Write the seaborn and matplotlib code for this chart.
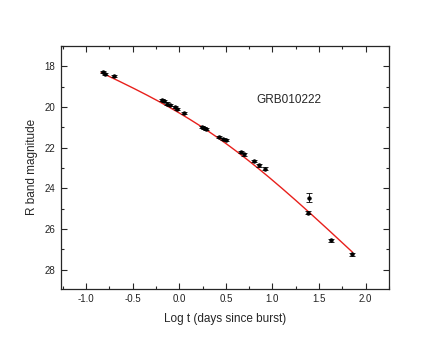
import numpy as np
import pandas as pd
import matplotlib
matplotlib.use("Agg")
import matplotlib.pyplot as plt
import seaborn as sns
from matplotlib.ticker import MultipleLocator

# --- data ---
log_t = [-0.82, -0.80, -0.70, -0.19, -0.16, -0.13, -0.10, -0.05, -0.02, 0.05,
         0.24, 0.27, 0.29, 0.43, 0.47, 0.50, 0.66, 0.69, 0.80, 0.86, 0.925,
         1.38, 1.395, 1.63, 1.85]
r_mag = [18.30, 18.36, 18.49, 19.64, 19.72, 19.83, 19.92, 20.00, 20.11, 20.30,
         20.99, 21.03, 21.07, 21.48, 21.58, 21.64, 22.21, 22.33, 22.66, 22.87, 23.03,
         25.20, 24.46, 26.56, 27.25]
r_err = [0.05, 0.05, 0.05, 0.05, 0.05, 0.05, 0.05, 0.05, 0.05, 0.05,
         0.05, 0.05, 0.05, 0.05, 0.05, 0.05, 0.06, 0.06, 0.07, 0.07, 0.07,
         0.08, 0.24, 0.08, 0.08]

# broken power-law fit parameters (magnitude space)
fit_m0 = 20.72
fit_alpha1 = 0.8
fit_alpha2 = 1.75
fit_logtb = 0.4
fit_range = (-0.84, 1.86)

df = pd.DataFrame({"logt": log_t, "mag": r_mag, "err": r_err})

u = np.linspace(fit_range[0], fit_range[1], 200) - fit_logtb
fit = pd.DataFrame({
    "logt": u + fit_logtb,
    "mag": fit_m0 + 2.5 * np.log10(10 ** (fit_alpha1 * u) + 10 ** (fit_alpha2 * u)),
})

sns.set_style("ticks")
plt.rcParams["font.family"] = ["Liberation Sans", "DejaVu Sans"]

fig = plt.figure(figsize=(4.36, 3.51), dpi=100)
ax = fig.add_axes([0.140, 0.177, 0.752, 0.692])

sns.lineplot(data=fit, x="logt", y="mag", color="#e8201c", linewidth=1.0, ax=ax)
ax.errorbar(df["logt"], df["mag"], yerr=df["err"], fmt="none", ecolor="black",
            elinewidth=0.6, capsize=2, capthick=0.6, zorder=3)
sns.scatterplot(data=df, x="logt", y="mag", color="black", s=7, edgecolor="black",
                linewidth=0.4, ax=ax, zorder=4)

ax.set_xlim(-1.27, 2.25)
ax.set_ylim(28.95, 17.0)
ax.xaxis.set_major_locator(MultipleLocator(0.5))
ax.xaxis.set_minor_locator(MultipleLocator(0.25))
ax.yaxis.set_major_locator(MultipleLocator(2))
ax.yaxis.set_minor_locator(MultipleLocator(1))
ax.tick_params(which="both", direction="in", top=True, right=True,
               labelsize=7, width=0.8, pad=4, labelcolor="#222222")
ax.tick_params(which="major", length=4)
ax.tick_params(which="minor", length=2)
ax.set_xticklabels([f"{v:.1f}" for v in ax.get_xticks()])
ax.set_xlim(-1.27, 2.25)
for sp in ax.spines.values():
    sp.set_linewidth(0.9)

ax.set_xlabel("Log t (days since burst)", fontsize=8.5, labelpad=6)
ax.set_ylabel("R band magnitude", fontsize=8.5, labelpad=5)
ax.text(1.18, 19.67, "GRB010222", fontsize=8.5, ha="center", va="center")

fig.savefig("out.png", dpi=100)
